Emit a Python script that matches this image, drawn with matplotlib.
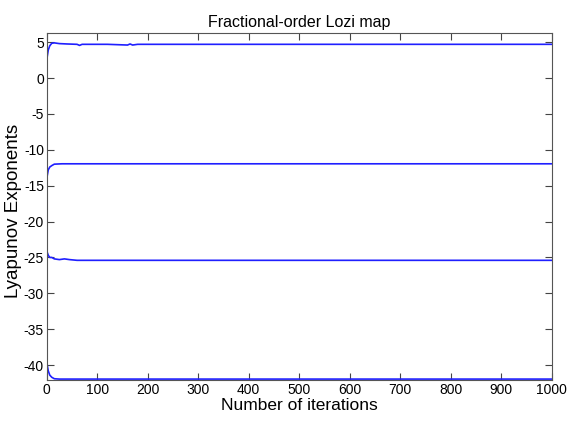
import matplotlib.pyplot as plt

# Lyapunov exponents (iteration, value)
it1 = [1, 3, 6, 10, 15, 25, 40, 60, 65, 70, 80, 120, 160, 165, 170, 180, 250, 1000]
le1 = [3.0, 3.9, 4.5, 4.85, 4.9, 4.8, 4.75, 4.7, 4.55, 4.7, 4.7, 4.7, 4.6, 4.75, 4.6, 4.7, 4.7, 4.7]

it2 = [1, 3, 6, 10, 15, 30, 60, 1000]
le2 = [-13.6, -12.8, -12.4, -12.2, -12.0, -11.95, -11.95, -11.95]

it3 = [1, 3, 6, 10, 15, 25, 35, 45, 60, 1000]
le3 = [-24.3, -24.7, -25.0, -25.0, -25.2, -25.3, -25.2, -25.3, -25.4, -25.4]

it4 = [1, 3, 6, 10, 15, 25, 60, 1000]
le4 = [-40.0, -40.8, -41.4, -41.7, -41.9, -41.95, -41.95, -41.95]

xticks = list(range(0, 1001, 100))
yticks = list(range(-40, 6, 5))

plt.rcParams["font.family"] = ["Liberation Sans", "DejaVu Sans"]
plt.rcParams["axes.unicode_minus"] = False

fig = plt.figure(figsize=(5.7, 4.21), dpi=100)
ax = fig.add_axes([0.082, 0.097, 0.886, 0.825])

for x, y in [(it1, le1), (it2, le2), (it3, le3), (it4, le4)]:
    ax.plot(x, y, color="#1f1fff", linewidth=1.2)

ax.set_xlim(0, 1000)
ax.set_ylim(-42.1, 6.3)
ax.set_xticks(xticks)
ax.set_yticks(yticks)
ax.tick_params(direction="in", top=True, right=True, length=5, labelsize=10,
               color="#444444", pad=2)
for s in ax.spines.values():
    s.set_color("#555555")

ax.set_title("Fractional-order Lozi map", fontsize=11.5, pad=4)
ax.set_xlabel("Number of iterations", fontsize=12.5, labelpad=1)
# y label sits close to the figure's left edge, as in the original
fig.text(0.024, 0.5, "Lyapunov Exponents", rotation=90, ha="center", va="center",
         fontsize=13.5)

fig.savefig("out.png", dpi=100)
